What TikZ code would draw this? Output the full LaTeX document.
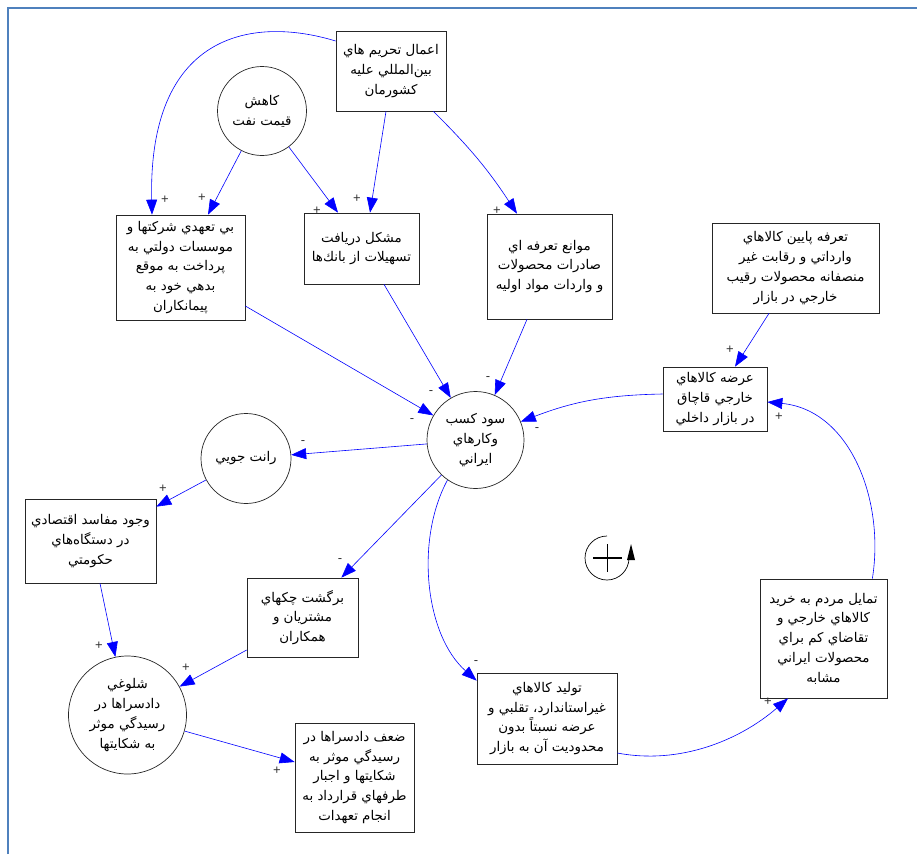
\documentclass[tikz,border=0pt]{standalone}
\usepackage{fontspec}
\usetikzlibrary{arrows.meta,calc}
\TeXXeTstate=1
\newfontfamily\arabicfont[Script=Arabic]{DejaVu Sans}
\newfontfamily\signfont{Liberation Sans}
\newcommand{\rl}[1]{\beginR #1\endR}
\definecolor{framecol}{RGB}{79,129,189}
\begin{document}
\begin{tikzpicture}[x=1pt,y=-1pt,
  box/.style={draw=black!85, line width=0.7pt, fill=white, inner sep=0pt, align=center,
    font=\arabicfont\fontsize{13.4}{19.8}\selectfont},
  circ/.style={box, circle},
  arr/.style={draw=blue, line width=0.6pt, -{Triangle[length=15pt,width=11pt]}},
  sgn/.style={font=\signfont\fontsize{13}{13}\selectfont, inner sep=0pt, text=black!80}
]
\useasboundingbox (0,0) rectangle (917,854);
\draw[line width=2.2pt, framecol] (8,854) -- (8,8) -- (917,8);

% nodes
\node[box, minimum width=110pt, minimum height=80pt] (A) at (391,71)
  {\rl{اعمال تحريم هاي}\\\rl{بين‌المللي عليه}\\\rl{كشورمان}};
\node[circ, minimum size=89pt] (B) at (262,111)
  {\rl{كاهش}\\\rl{قيمت نفت}};
\node[box, minimum width=129pt, minimum height=105pt] (C) at (180.5,267.5)
  {\rl{بي تعهدي شركتها و}\\\rl{موسسات دولتي به}\\\rl{پرداخت به موقع}\\\rl{بدهي خود به}\\\rl{پيمانكاران}};
\node[box, minimum width=115pt, minimum height=71pt] (D) at (361.5,248.5)
  {\rl{مشكل دريافت}\\\rl{تسهيلات از بانك‌ها}};
\node[box, minimum width=125pt, minimum height=105pt] (E) at (549.5,266.5)
  {\rl{موانع تعرفه اي}\\\rl{صادرات محصولات}\\\rl{و واردات مواد اوليه}};
\node[box, minimum width=167pt, minimum height=90pt] (F) at (795.5,268)
  {\rl{تعرفه پايين كالاهاي}\\\rl{وارداتي و رقابت غير}\\\rl{منصفانه محصولات رقيب}\\\rl{خارجي در بازار}};
\node[box, minimum width=104pt, minimum height=64pt] (G) at (715,399)
  {\rl{عرضه كالاهاي}\\\rl{خارجي قاچاق}\\\rl{در بازار داخلي}};
\node[circ, minimum size=97pt] (H) at (475.5,440)
  {\rl{سود كسب}\\\rl{وكارهاي}\\\rl{ايراني}};
\node[circ, minimum size=90pt] (I) at (246,458.5)
  {\rl{رانت جويي}};
\node[box, minimum width=131pt, minimum height=84pt] (J) at (90.5,541)
  {\rl{وجود مفاسد اقتصادي}\\\rl{در دستگاه‌هاي}\\\rl{حكومتي}};
\node[box, minimum width=111pt, minimum height=79pt] (K) at (302.5,617.5)
  {\rl{برگشت چكهاي}\\\rl{مشتريان و}\\\rl{همكاران}};
\node[circ, minimum size=118pt] (L) at (127.5,715)
  {\rl{شلوغي}\\\rl{دادسراها در}\\\rl{رسيدگي موثر}\\\rl{به شكايتها}};
\node[box, minimum width=119pt, minimum height=109pt] (M) at (354.5,777.5)
  {\rl{ضعف دادسراها در}\\\rl{رسيدگي موثر به}\\\rl{شكايتها و اجبار}\\\rl{طرفهاي قرارداد به}\\\rl{انجام تعهدات}};
\node[box, minimum width=140pt, minimum height=91pt] (N) at (547,718.5)
  {\rl{توليد كالاهاي}\\\rl{غيراستاندارد، تقلبي و}\\\rl{عرضه نسبتاً بدون}\\\rl{محدوديت آن به بازار}};
\node[box, minimum width=127pt, minimum height=119pt] (O) at (823.5,638.5)
  {\rl{تمايل مردم به خريد}\\\rl{كالاهاي خارجي و}\\\rl{تقاضاي كم براي}\\\rl{محصولات ايراني}\\\rl{مشابه}};

% connectors
\draw[arr] ($(A.west)+(0,-30)$) .. controls (250,15) and (148,35) .. ($(C.north)+(-28.5,0)$);
\draw[arr] (B) -- ($(C.north)+(27.5,0)$);
\draw[arr] (B) -- ($(D.north)+(-23.5,0)$);
\draw[arr] ($(A.south)+(-5,0)$) -- ($(D.north)+(8.5,0)$);
\draw[arr] ($(A.south east)+(-13,0)$) to[bend left=6] ($(E.north)+(-32.5,0)$);
\draw[arr] ($(C.east)+(0,38.5)$) -- (H);
\draw[arr] ($(D.south)+(22.5,0)$) -- (H);
\draw[arr] ($(E.south)+(-22.5,0)$) -- (H);
\draw[arr] ($(G.west)+(0,-5)$) to[bend right=10] (H.22);
\draw[arr] ($(F.south)+(-26.5,0)$) -- ($(G.north)+(20,0)$);
\draw[arr] (H) -- (I);
\draw[arr] (I) -- ($(J.north east)+(0,8)$);
\draw[arr] ($(J.south)+(9.5,0)$) -- (L);
\draw[arr] ($(K.west)+(0,32.5)$) -- (L);
\draw[arr] (L) -- ($(M.west)+(0,-15.5)$);
\draw[arr] (H) -- ($(K.north east)+(-17,0)$);
\draw[arr] (H.235) .. controls (415,540) and (425,635) .. ($(N.north west)+(0,8)$);
\draw[arr] ($(N.east)+(0,34.5)$) .. controls (680,765) and (740,740) .. ($(O.south)+(-35.5,0)$);
\draw[arr] ($(O.north east)+(-15,0)$) .. controls (885,500) and (850,410) .. ($(G.east)+(0,3)$);

% signs
\node[sgn] (s1) at (165,200) {+};
\node[sgn] (s2) at (202,198) {+};
\node[sgn] (s3) at (317,211) {+};
\node[sgn] (s4) at (357,199) {+};
\node[sgn] (s5) at (497,211) {+};
\node[sgn] (s6) at (730,350) {+};
\node[sgn] (s7) at (779,417) {+};
\node[sgn] (s8) at (412,421) {-};
\node[sgn] (s9) at (431,393) {-};
\node[sgn] (s10) at (488,379) {-};
\node[sgn] (s11) at (537,430) {-};
\node[sgn] (s12) at (303,443) {-};
\node[sgn] (s13) at (163,489) {+};
\node[sgn] (s14) at (340,561) {-};
\node[sgn] (s15) at (99,646) {+};
\node[sgn] (s16) at (186,668) {+};
\node[sgn] (s17) at (277,771) {+};
\node[sgn] (s18) at (476,663) {-};
\node[sgn] (s19) at (768,702) {+};

% loop symbol
\draw[line width=0.7pt] (607,536) arc[start angle=-90, end angle=-360, radius=22];
\fill (627,560) -- (635,560) -- (631,544) -- cycle;
\draw[line width=1.6pt] (593,558) -- (622,558);
\draw[line width=1.6pt] (607.5,544) -- (607.5,572);
\end{tikzpicture}
\end{document}
